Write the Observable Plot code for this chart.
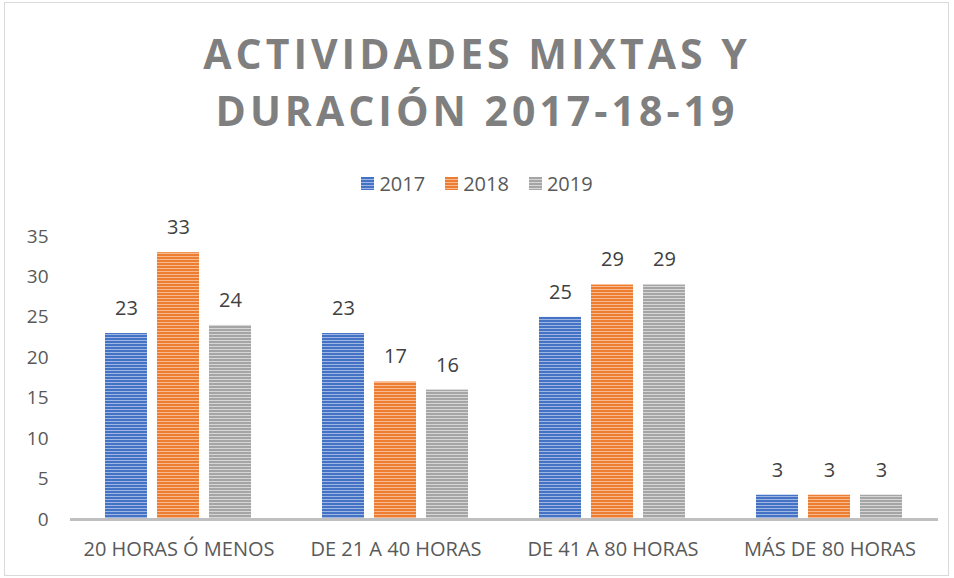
<!DOCTYPE html>
<html>
<head>
<meta charset="utf-8">
<script src="https://cdn.jsdelivr.net/npm/d3@7"></script>
<script src="https://cdn.jsdelivr.net/npm/@observablehq/plot@0.6"></script>
<style>
  html, body { margin: 0; padding: 0; background: #fff; }
  body { width: 954px; height: 578px; position: relative; overflow: hidden; font-family: "Open Sans", sans-serif; }
  #frame { position: absolute; left: 4px; top: 2px; width: 945px; height: 574px; border: 1px solid #d9d9d9; box-sizing: border-box; }
  #title { position: absolute; left: 0; top: 25px; width: 954px; text-align: center; font-weight: bold; font-size: 41px; line-height: 57px; color: #7f7f7f; letter-spacing: 4px; }
  #legend { position: absolute; left: 0; top: 170px; width: 954px; display: flex; justify-content: center; gap: 20px; font-size: 20px; color: #595959; }
  #legend .item { display: flex; align-items: center; gap: 5px; }
  #legend .sw { width: 13px; height: 13px; display: inline-block; }
  #chart { position: absolute; left: 0; top: 200px; }
</style>
</head>
<body>
<div id="frame"></div>
<div id="title">ACTIVIDADES MIXTAS Y<br>DURACIÓN 2017-18-19</div>
<div id="legend"></div>
<div id="chart"></div>
<script>
const categories = ["20 HORAS Ó MENOS", "DE 21 A 40 HORAS", "DE 41 A 80 HORAS", "MÁS DE 80 HORAS"];
const years = ["2017", "2018", "2019"];
const values2017 = [23, 23, 25, 3];
const values2018 = [33, 17, 29, 3];
const values2019 = [24, 16, 29, 3];
const yTicks = [0, 5, 10, 15, 20, 25, 30, 35];
const darkColors = ["#4472c4", "#ed7d31", "#a5a5a5"];
const lightColors = ["#9fb6e3", "#f7b98f", "#d6d6d6"];

const series = [values2017, values2018, values2019];
const data = [];
years.forEach((yr, i) => categories.forEach((c, j) => data.push({category: c, year: yr, value: series[i][j]})));

// legend
const legend = document.getElementById("legend");
years.forEach((yr, i) => {
  const it = document.createElement("div");
  it.className = "item";
  it.innerHTML = `<span class="sw" style="background: repeating-linear-gradient(to bottom, ${darkColors[i]} 0 2px, ${lightColors[i]} 2px 3px)"></span><span>${yr}</span>`;
  legend.appendChild(it);
});

const marks = [];
years.forEach((yr, i) => {
  const sub = data.filter(d => d.year === yr);
  marks.push(Plot.barY(sub, {fx: "category", x: "year", y: "value", fill: `url(#pat${yr})`}));
  marks.push(Plot.text(sub, {fx: "category", x: "year", y: "value", text: d => String(d.value), dy: -25, fontSize: 20, fill: "#404040"}));
});
marks.push(Plot.ruleY([0], {stroke: "#bfbfbf", strokeWidth: 3}));

const chart = Plot.plot({
  width: 954,
  height: 378,
  marginTop: 36,
  marginBottom: 59,
  marginLeft: 69,
  marginRight: 16,
  style: {fontFamily: "Open Sans, sans-serif", background: "transparent"},
  fx: {domain: categories, padding: 0, axis: "bottom", label: null, tickSize: 0, tickPadding: 22},
  x: {domain: years, paddingInner: 0.19, paddingOuter: 0.68, axis: null},
  y: {domain: [0, 35], ticks: yTicks, label: null, tickSize: 0, tickPadding: 22},
  marks
});

// patterns
const ns = "http://www.w3.org/2000/svg";
const defs = document.createElementNS(ns, "defs");
years.forEach((yr, i) => {
  const p = document.createElementNS(ns, "pattern");
  p.setAttribute("id", `pat${yr}`);
  p.setAttribute("patternUnits", "userSpaceOnUse");
  p.setAttribute("width", "4");
  p.setAttribute("height", "3");
  const r1 = document.createElementNS(ns, "rect");
  r1.setAttribute("width", "4"); r1.setAttribute("height", "3"); r1.setAttribute("fill", lightColors[i]);
  const r2 = document.createElementNS(ns, "rect");
  r2.setAttribute("width", "4"); r2.setAttribute("height", "2"); r2.setAttribute("fill", darkColors[i]);
  p.appendChild(r1); p.appendChild(r2);
  defs.appendChild(p);
});
chart.insertBefore(defs, chart.firstChild);

chart.querySelectorAll("[aria-label='y-axis tick label']").forEach(g => { g.setAttribute("font-size", "19"); g.setAttribute("fill", "#595959"); });
chart.querySelectorAll("[aria-label='fx-axis tick label']").forEach(g => { g.setAttribute("font-size", "20"); g.setAttribute("fill", "#595959"); });

document.getElementById("chart").appendChild(chart);
</script>
</body>
</html>
